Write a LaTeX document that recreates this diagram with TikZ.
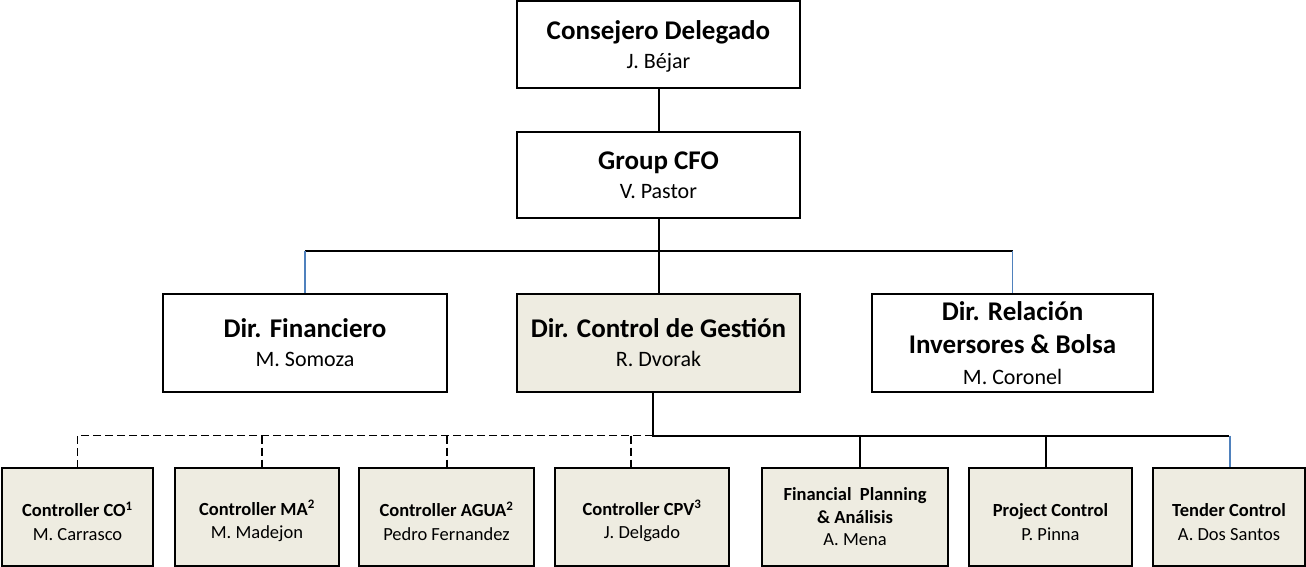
\documentclass[tikz,border=0pt]{standalone}
\usepackage{fontspec}
\setmainfont{Carlito}
\usepackage{xcolor}
\usepackage{tikz}
\definecolor{bgtan}{HTML}{EEECE1}
\definecolor{linkblue}{HTML}{4F81BD}
\tikzset{unit/.style={draw=black, line width=1.2pt, inner sep=0pt, align=center, text=black, fill=white},
    topunit/.style={unit, font=\fontsize{22}{29}\selectfont},
    shaded/.style={fill=bgtan},
    ctrl/.style={unit, fill=bgtan, minimum height=98pt, font=\fontsize{18.5}{23.5}\selectfont},
    conn/.style={line width=2pt, black},
    blueconn/.style={line width=1.6pt, linkblue},
    dashconn/.style={line width=1.2pt, dash pattern=on 8pt off 4pt}}
\newcommand{\ttl}[1]{{\fontsize{27}{29}\selectfont\bfseries #1}}
\newcommand{\sttl}[1]{{\bfseries #1}}
\newcommand{\lowstrut}{\rule{0pt}{23pt}}
\begin{document}
\begin{tikzpicture}[x=1pt,y=-1pt]
                 \useasboundingbox (0,0) rectangle (1306,567);
                 % top rows
                 \node[topunit, minimum width=283pt, minimum height=87pt](cd) at (658.5,44.5){\rule{0pt}{23pt}\ttl{Consejero Delegado}\\J. Béjar};
                 \node[topunit, minimum width=283pt, minimum height=86pt](cfo) at (658.5,175){\ttl{Group CFO}\\V. Pastor};
                 \node[topunit, minimum width=284pt, minimum height=98pt](fin) at (305,343){\ttl{Dir. Financiero}\\M. Somoza};
                 \node[topunit, shaded, minimum width=283pt, minimum height=98pt](cdg) at (658.5,343){\ttl{Dir. Control de Gestión}\\R. Dvorak};
                 \node[topunit, minimum width=281pt, minimum height=98pt](rel) at (1012.5,343){\ttl{Dir. Relación}\\[4pt]\ttl{Inversores \& Bolsa}\\[2pt]M. Coronel};
                 % controllers
                 \node[ctrl, minimum width=151pt](c1) at (77.5,517){\lowstrut\sttl{Controller CO\textsuperscript{1}}\\M. Carrasco};
                 \node[ctrl, minimum width=164pt](c2) at (257,517){\lowstrut\sttl{Controller MA\textsuperscript{2}}\\M. Madejon};
                 \node[ctrl, minimum width=175pt](c3) at (446.5,517){\lowstrut\sttl{Controller AGUA\textsuperscript{2}}\\Pedro Fernandez};
                 \node[ctrl, minimum width=174pt](c4) at (642,517){\lowstrut\sttl{Controller CPV\textsuperscript{3}}\\J. Delgado};
                 \node[ctrl, minimum width=186pt, font=\fontsize{18.5}{22.5}\selectfont](c5) at (855,517){\sttl{Financial\ \ Planning}\\\sttl{\& Análisis}\\A. Mena};
                 \node[ctrl, minimum width=163pt](c6) at (1050.5,517){\lowstrut\sttl{Project Control}\\P. Pinna};
                 \node[ctrl, minimum width=152pt](c7) at (1229,517){\lowstrut\sttl{Tender Control}\\A. Dos Santos};
                 \coordinate (busT) at (658.5,250.5);
                 \coordinate (busB) at (653,435.5);
                 % lines
                 \draw[conn](cd)--(cfo);
                 \draw[conn](cfo)--(cdg);
                 \draw[conn](fin.north |- busT)--(rel.north |- busT);
                 \draw[blueconn](fin.north |- busT)--(fin.north);
                 \draw[blueconn](rel.north |- busT)--(rel.north);
                 \draw[conn](cdg.south -| busB)--(busB)--(c7.north |- busB);
                 \draw[conn]([xshift=5pt]c5.north |- busB)--([xshift=5pt]c5.north);
                 \draw[conn]([xshift=-4.5pt]c6.north |- busB)--([xshift=-4.5pt]c6.north);
                 \draw[blueconn]([xshift=1pt]c7.north |- busB)--([xshift=1pt]c7.north);
                 \draw[dashconn](busB)--(c1.north |- busB)--(c1.north);
                 \draw[dashconn]([xshift=5pt]c2.north |- busB)--([xshift=5pt]c2.north);
                 \draw[dashconn]([xshift=0.5pt]c3.north |- busB)--([xshift=0.5pt]c3.north);
                 \draw[dashconn]([xshift=-11pt]c4.north |- busB)--([xshift=-11pt]c4.north);
             \end{tikzpicture}
\end{document}
